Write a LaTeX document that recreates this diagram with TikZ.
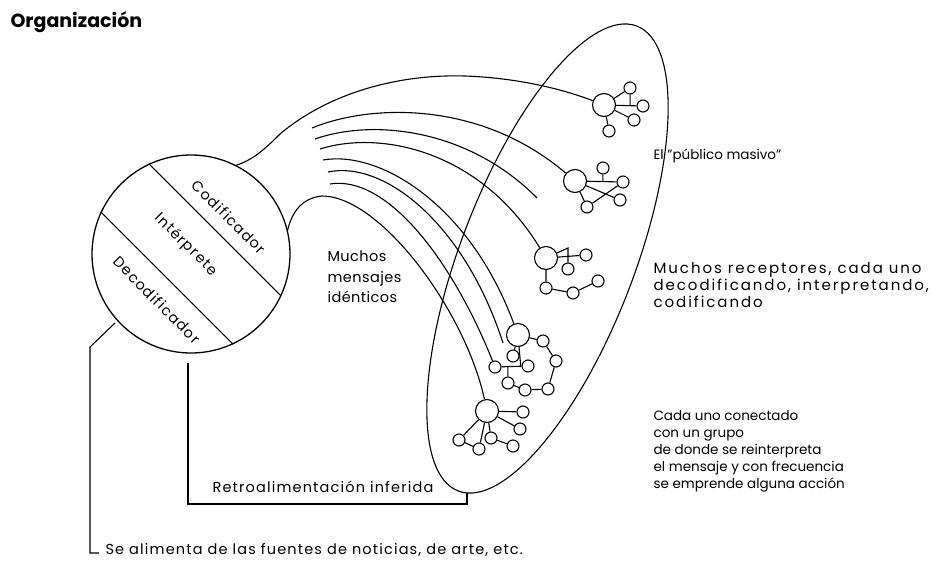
\documentclass[tikz,border=0pt]{standalone}
\usepackage{fontspec}
\setmainfont{Poppins}
\usetikzlibrary{calc,shapes.geometric}
\begin{document}
\begin{tikzpicture}[x=1pt,y=-1pt,line width=1.1pt,
  hub/.style={circle,draw,minimum size=23pt,inner sep=0pt},
  dot/.style={circle,draw,minimum size=12pt,inner sep=0pt},
  txt/.style={font=\fontsize{13.5}{17}\selectfont,align=left,inner sep=0pt,anchor=west},
  wtxt/.style={font=\fontsize{14.5}{17}\selectfont\addfontfeature{LetterSpace=8},align=left,inner sep=0pt,anchor=west},
  rtxt/.style={font=\fontsize{14.5}{17}\selectfont\addfontfeature{LetterSpace=8},inner sep=0pt,rotate=-45}]
\useasboundingbox (0,0) rectangle (934,565);
% title
\node[anchor=west,inner sep=0pt,font=\fontsize{19}{22}\selectfont\bfseries] (title) at (10,22) {Organización};
% source circle
\node[circle,draw,minimum size=198pt,inner sep=0pt,line width=1.3pt] (enc) at (191,254) {};
\draw (enc.115) -- (enc.-25);
\draw (enc.155) -- (enc.-65);
\node[rtxt] (tcod) at (229,217) {Codificador};
\node[rtxt] (tint) at (186,245) {Intérprete};
\node[rtxt] (tdec) at (157,300) {Decodificador};
% public ellipse
\node[ellipse,draw,minimum width=498pt,minimum height=174pt,inner sep=0pt,rotate=69] (pub) at (547.5,258.5) {};
% cluster 1
\node[hub] (h1) at (604,105) {};
\node[dot] (a1) at (630,88) {};
\node[dot] (b1) at (643,106) {};
\node[dot] (c1) at (634,120) {};
\node[dot] (d1) at (609,131) {};
\coordinate (j1) at ($(h1)!0.67!(b1)$);
\draw (h1) -- (a1) (h1) -- (b1) (h1) -- (c1) (h1) -- (d1) (a1) -- (j1);
% cluster 2
\node[hub] (h2) at (575,181) {};
\node[dot] (a2) at (603,168) {};
\node[dot] (b2) at (623,182) {};
\node[dot] (c2) at (620,200) {};
\node[dot] (d2) at (587,207) {};
\coordinate (j2) at ($(h2)!0.58!(b2)$);
\draw (h2) -- (b2) (a2) -- (j2) (h2) -- (c2) (d2) -- (b2) (h2) -- (d2);
% cluster 3
\node[hub] (h3) at (546,258) {};
\node[dot] (a3) at (586,255) {};
\node[dot] (b3) at (568,269) {};
\node[dot] (c3) at (546,288) {};
\node[dot] (d3) at (573,293) {};
\node[dot] (e3) at (598,281) {};
\coordinate (k3) at (568,248);
\draw (h3) -- (a3) (h3) -- (k3) -- (b3) (h3) -- (c3) -- (d3) -- (e3);
% cluster 4
\node[hub] (h4) at (518,335) {};
\node[dot] (p1) at (543,341) {};
\node[dot] (p2) at (556,361) {};
\node[dot] (p3) at (548,389) {};
\node[dot] (p4) at (525,390) {};
\node[dot] (p5) at (508,383) {};
\node[dot] (p6) at (528,366) {};
\node[dot] (p7) at (513,356) {};
\node[dot] (p8) at (495,367) {};
\coordinate (j4) at ($(p8)!0.78!(p6)$);
\coordinate (k4) at ($(p8)!0.39!(p6)$);
\draw (h4) -- (p1) -- (p2) -- (p3) -- (p4) -- (p5) -- (k4) (p8) -- (p6) (h4) -- (p7) (h4) -- (j4);
% cluster 5
\node[hub] (h5) at (487,411) {};
\node[dot] (q1) at (523,412) {};
\node[dot] (q2) at (520,429) {};
\node[dot] (q3) at (513,446) {};
\node[dot] (q4) at (491,438) {};
\node[dot] (q5) at (479,449) {};
\node[dot] (q6) at (459,440) {};
\draw (h5) -- (q1) (h5) -- (q2) (h5) -- (q4) -- (q3) (h5) -- (q5) (h5) -- (q6) -- (q5);
% message curves
\coordinate (m1) at (312,128);
\coordinate (m2) at (315,139);
\coordinate (m3) at (320,149);
\coordinate (m4) at (323,160);
\coordinate (m5) at (328,172);
\coordinate (m6) at (330,184);
\coordinate (f1) at (537,198);
\coordinate (f2) at (503,343);
\draw (enc.63) .. controls (252,160) and (262,152) .. (280,134)
      .. controls (330,92) and (400,74) .. (465,76)
      .. controls (520,78) and (565,90) .. (h1);
\draw (m1) .. controls (370,104) and (480,100) .. (h2);
\draw (m2) .. controls (375,118) and (470,130) .. (f1);
\draw (m3) .. controls (380,130) and (480,150) .. (h3);
\draw (m4) .. controls (380,150) and (470,205) .. (h4);
\draw (m5) .. controls (385,160) and (465,225) .. (f2);
\draw (m6) .. controls (385,175) and (450,255) .. (p8);
\draw (enc.14) .. controls (292,212) and (302,198) .. (322,196)
      .. controls (380,196) and (465,310) .. (h5);
% feedback
\coordinate (fbs) at (188,363);
\coordinate (fbb) at (467,504);
\coordinate (fbt) at (467,493);
\draw (fbs) -- (fbs |- fbb) -- (fbb) -- (fbt);
\coordinate (sa0) at (115,323);
\coordinate (sa1) at (90,347);
\coordinate (sa2) at (90,553);
\coordinate (sa3) at (99,553);
\draw (sa0) -- (sa1) -- (sa2) -- (sa3);
% labels
\node[txt] (pm) at (653,156) {El ''público masivo''};
\node[txt,font=\fontsize{15}{17}\selectfont\addfontfeature{LetterSpace=13}] (mr) at (653,285) {Muchos receptores, cada uno\\decodificando, interpretando,\\codificando};
\node[txt] (cu) at (653,451.5) {Cada uno conectado\\con un grupo\\de donde se reinterpreta\\el mensaje y con frecuencia\\se emprende alguna acción};
\node[txt,font=\fontsize{14.5}{20.5}\selectfont\addfontfeature{LetterSpace=3}] (mm) at (327,277) {Muchos\\mensajes\\idénticos};
\node[wtxt] (ri) at (212,487) {Retroalimentación inferida};
\node[wtxt] (sa) at (105,550) {Se alimenta de las fuentes de noticias, de arte, etc.};
\end{tikzpicture}
\end{document}
